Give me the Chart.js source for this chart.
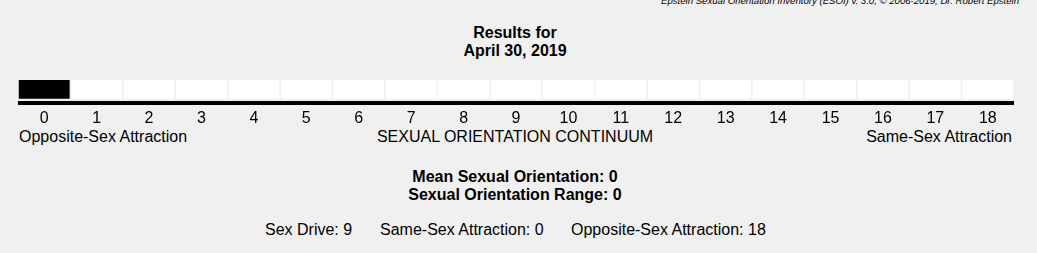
<!DOCTYPE html>
<html>
<head>
<meta charset="utf-8">
<script src="https://cdn.jsdelivr.net/npm/chart.js@4"></script>
<style>
  html, body { margin: 0; padding: 0; background: #f0f0f0; }
  body { width: 1037px; height: 253px; position: relative; overflow: hidden;
         font-family: "Liberation Sans", Arial, sans-serif; color: #000; }
  .t { position: absolute; white-space: nowrap; font-size: 16px; line-height: 18px; }
  .b { font-weight: bold; }
  .c { left: 0; width: 1030px; text-align: center; }
  #credit { position: absolute; right: 18px; top: -5px; font-size: 9.6px; line-height: 12px; font-style: italic; white-space: nowrap; }
  #wrap { position: absolute; left: 18px; top: 80px; width: 996px; height: 46px; }
</style>
</head>
<body>
<script>
// Continuum positions 0..18
const categories = ['0','1','2','3','4','5','6','7','8','9','10','11','12','13','14','15','16','17','18'];
const cellValues = [1,1,1,1,1,1,1,1,1,1,1,1,1,1,1,1,1,1,1];
// Scores shown for this result
const meanOrientation = [0];
const orientationRange = [0];
const sexDrive = [9];
const sameSexAttraction = [0];
const oppositeSexAttraction = [18];
const resultDate = ['April 30, 2019'];
</script>

<div id="credit">Epstein Sexual Orientation Inventory (ESOI) v. 3.0, © 2006-2019, Dr. Robert Epstein</div>
<div class="t b c" id="r1" style="top:24px">Results for</div>
<div class="t b c" id="r2" style="top:42px"></div>

<div id="wrap"><canvas id="chart"></canvas></div>

<div class="t" style="left:19px; top:128px">Opposite-Sex Attraction</div>
<div class="t c" style="top:128px">SEXUAL ORIENTATION CONTINUUM</div>
<div class="t" style="right:25px; top:128px">Same-Sex Attraction</div>

<div class="t b c" id="m1" style="top:168px"></div>
<div class="t b c" id="m2" style="top:185.5px"></div>

<div class="t" id="s1" style="left:265px; top:221px"></div>
<div class="t" id="s2" style="left:380px; top:221px"></div>
<div class="t" id="s3" style="left:571px; top:221px"></div>

<script>
document.getElementById('r2').textContent = resultDate[0];
document.getElementById('m1').textContent = 'Mean Sexual Orientation: ' + meanOrientation[0];
document.getElementById('m2').textContent = 'Sexual Orientation Range: ' + orientationRange[0];
document.getElementById('s1').textContent = 'Sex Drive: ' + sexDrive[0];
document.getElementById('s2').textContent = 'Same-Sex Attraction: ' + sameSexAttraction[0];
document.getElementById('s3').textContent = 'Opposite-Sex Attraction: ' + oppositeSexAttraction[0];

// Cells within the range around the mean are filled black
const cellColors = categories.map((c, i) =>
  Math.abs(i - meanOrientation[0]) <= orientationRange[0] ? '#000000' : '#ffffff');

new Chart(document.getElementById('chart'), {
  type: 'bar',
  data: {
    labels: categories,
    datasets: [{
      data: cellValues,
      backgroundColor: cellColors,
      borderWidth: 0,
      barPercentage: 0.97,
      categoryPercentage: 1
    }]
  },
  options: {
    responsive: true,
    maintainAspectRatio: false,
    animation: false,
    events: [],
    layout: { padding: 0 },
    plugins: { legend: { display: false }, tooltip: { enabled: false }, title: { display: false } },
    scales: {
      x: {
        grid: { display: false, drawTicks: false },
        border: { display: true, color: '#000000', width: 4 },
        ticks: {
          color: '#000000',
          padding: 6,
          font: { family: '"Liberation Sans", Arial, sans-serif', size: 16 },
          maxRotation: 0,
          autoSkip: false
        }
      },
      y: {
        display: false,
        min: -0.225,
        max: 1
      }
    }
  }
});
</script>
</body>
</html>
